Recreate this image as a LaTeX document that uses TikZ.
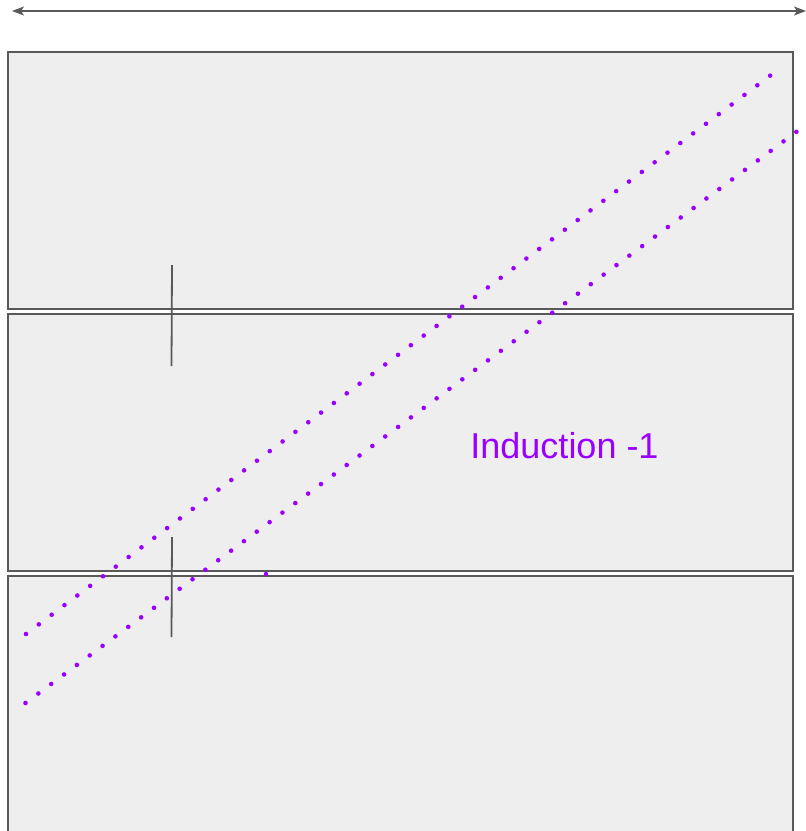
\documentclass[tikz,border=0pt]{standalone}
\usepackage{fontspec}
\setmainfont{Liberation Sans}
\usetikzlibrary{arrows.meta}
\definecolor{edgegray}{HTML}{595959}
\definecolor{boxfill}{HTML}{EEEEEE}
\definecolor{purp}{HTML}{9900FF}
\tikzset{
  panel/.style={draw=edgegray, fill=boxfill, line width=1.8pt, rectangle, inner sep=0pt},
  tick/.style={draw=edgegray, line width=1.8pt},
  purpdots/.style={draw=purp, line width=4.6pt, line cap=round, dash pattern=on 0pt off #1},
  span/.style={draw=edgegray, line width=1.5pt, {Stealth[length=12pt,width=9pt,inset=3pt]}-{Stealth[length=12pt,width=9pt,inset=3pt]}}
}
\begin{document}
\begin{tikzpicture}[x=1pt,y=-1pt]
\useasboundingbox (0,0) rectangle (806,831);
\clip (0,0) rectangle (806,831);
% panels
\draw[panel] (8,52) rectangle (793,309);
\draw[panel] (8,314) rectangle (793,571);
\draw[panel] (8,576) rectangle (793,860);
% top span arrow
\coordinate (aL) at (12,11);
\coordinate (aR) at (806,11);
\draw[span] (aL) -- (aR);
% ticks
\coordinate (t1a) at (172,265);
\coordinate (t1b) at (171.5,366);
\coordinate (t2a) at (172,537);
\coordinate (t2b) at (171.5,637);
\draw[tick] (t1a) -- (t1b);
\draw[tick] (t2a) -- (t2b);
% purple dotted lines
\coordinate (p1s) at (26,634);
\coordinate (p1e) at (771,75);
\coordinate (p2s) at (25.5,703);
\coordinate (p2e) at (797.5,131);
\draw[purpdots=16.04pt] (p1s) -- (p1e);
\draw[purpdots=15.99pt] (p2s) -- (p2e);
\coordinate (stray) at (266,574);
\fill[purp] (stray) circle (2.2pt);
% label
\node[text=purp, font=\fontsize{36}{43}\selectfont, inner sep=0pt, anchor=base] (lbl) at (564.5,458) {Induction -1};
\end{tikzpicture}
\end{document}
